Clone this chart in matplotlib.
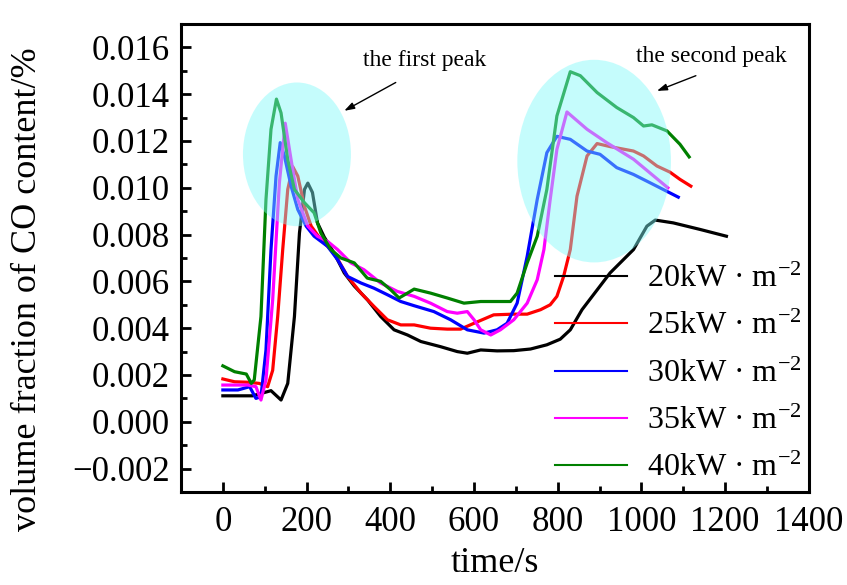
import matplotlib.pyplot as plt
from matplotlib.patches import Ellipse
from matplotlib.ticker import MultipleLocator, FuncFormatter

plt.rcParams['font.family'] = ['Liberation Serif', 'DejaVu Serif']
plt.rcParams['mathtext.fontset'] = 'custom'
plt.rcParams['mathtext.rm'] = 'Liberation Serif'
plt.rcParams['mathtext.it'] = 'Liberation Serif'

labels = ["20kW · m$^{-2}$", "25kW · m$^{-2}$", "30kW · m$^{-2}$",
          "35kW · m$^{-2}$", "40kW · m$^{-2}$"]
colors = ["black", "red", "blue", "magenta", "green"]

t20 = [0, 71, 115, 139, 155, 171, 183, 195, 203, 214, 226, 242, 266, 290, 314, 346, 377,
       409, 441, 473, 520, 560, 584, 616, 655, 695, 735, 774, 806, 830, 858, 925, 981,
       1013, 1033, 1076, 1140, 1203]
co20 = [0.00111, 0.00111, 0.00133, 0.00093, 0.00164, 0.0045, 0.00807, 0.00993, 0.0102,
        0.0098, 0.0085, 0.0079, 0.0072, 0.00636, 0.0058, 0.0052, 0.0045, 0.00393, 0.00371,
        0.00343, 0.00321, 0.0030, 0.00293, 0.00307, 0.00303, 0.00304, 0.00311, 0.00329,
        0.00353, 0.00393, 0.00479, 0.00636, 0.00736, 0.00836, 0.00862, 0.0085, 0.00822,
        0.00793]

t25 = [0, 28, 60, 87, 107, 119, 131, 143, 155, 167, 179, 195, 211, 234, 266, 298, 330,
       361, 393, 425, 457, 496, 536, 568, 600, 647, 695, 727, 759, 782, 798, 814, 830,
       846, 870, 894, 925, 981, 1005, 1037, 1068, 1092, 1118]
co25 = [0.00183, 0.00171, 0.00169, 0.00164, 0.0015, 0.0022, 0.0045, 0.00736, 0.00993,
        0.0109, 0.0105, 0.0092, 0.00836, 0.00779, 0.00721, 0.00621, 0.0055, 0.00493,
        0.00436, 0.00414, 0.00414, 0.0040, 0.00396, 0.00396, 0.00421, 0.00457, 0.0046,
        0.0046, 0.00479, 0.0050, 0.00536, 0.00621, 0.00736, 0.00964, 0.01136, 0.01189,
        0.01176, 0.01157, 0.01136, 0.01093, 0.01067, 0.01036, 0.01007]

t30 = [0, 36, 64, 79, 91, 103, 115, 127, 137, 147, 163, 179, 199, 218, 250, 274, 298,
       330, 361, 393, 425, 457, 504, 544, 584, 624, 655, 679, 703, 727, 751, 774, 798,
       830, 870, 901, 941, 981, 1021, 1088]
co30 = [0.00136, 0.00136, 0.0015, 0.0010, 0.00107, 0.00307, 0.00736, 0.0105, 0.01193,
        0.01136, 0.01007, 0.00907, 0.00836, 0.00793, 0.0075, 0.00693, 0.00621, 0.00593,
        0.00571, 0.00543, 0.00514, 0.00496, 0.00471, 0.00436, 0.00393, 0.00379, 0.00393,
        0.00421, 0.00507, 0.00707, 0.0095, 0.0115, 0.0122, 0.01207, 0.01157, 0.01143,
        0.01086, 0.01057, 0.01021, 0.0096]

t35 = [0, 60, 79, 91, 103, 119, 135, 149, 163, 179, 203, 226, 250, 274, 306, 337, 377,
       417, 457, 496, 536, 560, 584, 600, 616, 640, 663, 695, 727, 751, 767, 782, 798,
       822, 870, 917, 981, 1063]
co35 = [0.00157, 0.00157, 0.0015, 0.00093, 0.00179, 0.00521, 0.0102, 0.01276, 0.0112,
        0.0095, 0.00836, 0.00793, 0.00771, 0.00736, 0.00679, 0.0065, 0.00593, 0.00557,
        0.00536, 0.00507, 0.00471, 0.00464, 0.00471, 0.00436, 0.00393, 0.00371, 0.00393,
        0.00436, 0.00507, 0.00607, 0.00736, 0.0095, 0.01164, 0.01324, 0.0125, 0.01193,
        0.01122, 0.0100]

t40 = [0, 28, 56, 68, 75, 91, 103, 115, 128, 139, 155, 171, 195, 218, 234, 258, 282,
       314, 345, 377, 401, 421, 441, 457, 496, 536, 576, 616, 687, 703, 727, 751, 774,
       798, 830, 854, 894, 941, 981, 1005, 1025, 1061, 1092, 1114]
co40 = [0.00239, 0.00214, 0.00204, 0.00164, 0.00179, 0.0045, 0.0095, 0.0125, 0.01379,
        0.0132, 0.0112, 0.00993, 0.00936, 0.00893, 0.00807, 0.00736, 0.0070, 0.00679,
        0.00614, 0.0060, 0.00564, 0.00529, 0.0055, 0.00567, 0.0055, 0.00529, 0.00507,
        0.00514, 0.00514, 0.0055, 0.00679, 0.00793, 0.00993, 0.01307, 0.01496, 0.01479,
        0.01407, 0.01343, 0.0130, 0.01264, 0.01269, 0.01243, 0.01186, 0.01132]

times = [t20, t25, t30, t35, t40]
values = [co20, co25, co30, co35, co40]

fig = plt.figure(figsize=(8.47, 5.85), dpi=100)
ax = fig.add_axes([0.2137, 0.159, 0.7413, 0.8])

for t, v, c, lab in zip(times, values, colors, labels):
    ax.plot(t, v, color=c, lw=2.3, label=lab)

# highlighted peak regions
for cx, cy, w, h in [(177, 0.01143, 258, 0.00614), (887, 0.01114, 367, 0.00866)]:
    ax.add_patch(Ellipse((cx, cy), w, h, facecolor=(0.5, 0.98, 0.98), alpha=0.45,
                         edgecolor='none', zorder=5))

ax.text(482, 0.01546, "the first peak", fontsize=17, ha='center', va='center')
ax.text(1168, 0.01563, "the second peak", fontsize=17, ha='center', va='center')
arrow = dict(arrowstyle='-|>,head_length=0.6,head_width=0.2', color='black', lw=1,
             shrinkA=0, shrinkB=0)
ax.annotate("", xy=(290, 0.01329), xytext=(413, 0.0145), arrowprops=arrow)
ax.annotate("", xy=(1037, 0.01414), xytext=(1130, 0.01479), arrowprops=arrow)

ax.set_xlim(-100, 1400)
ax.set_ylim(-0.003, 0.017)
ax.xaxis.set_major_locator(MultipleLocator(200))
ax.xaxis.set_minor_locator(MultipleLocator(100))
ax.yaxis.set_major_locator(MultipleLocator(0.002))
ax.yaxis.set_minor_locator(MultipleLocator(0.001))
ax.yaxis.set_major_formatter(FuncFormatter(lambda v, p: f"{v:.3f}".replace('-', '\u2212')))
ax.tick_params(which='both', direction='in', width=2, labelsize=25, top=False, right=False)
ax.tick_params(which='major', length=7)
ax.tick_params(axis='x', which='major', pad=10)
ax.tick_params(axis='y', which='major', pad=8)
ax.tick_params(which='minor', length=4)
for s in ax.spines.values():
    s.set_linewidth(2.2)

ax.set_xlabel("time/s", fontsize=26, va='top')
ax.xaxis.set_label_coords(0.5, -0.118)
ax.set_ylabel("volume fraction of CO content/%", fontsize=26)
ax.yaxis.set_label_coords(-0.218, 0.434)

leg = ax.legend(loc='center left', bbox_to_anchor=(0.596, 0.252), frameon=False,
                fontsize=23, handlelength=2.26, handletextpad=0.6, labelspacing=0.56,
                borderpad=0, borderaxespad=0)
for ln in leg.get_lines():
    ln.set_linewidth(1.5)

fig.savefig("out.png", dpi=100)
